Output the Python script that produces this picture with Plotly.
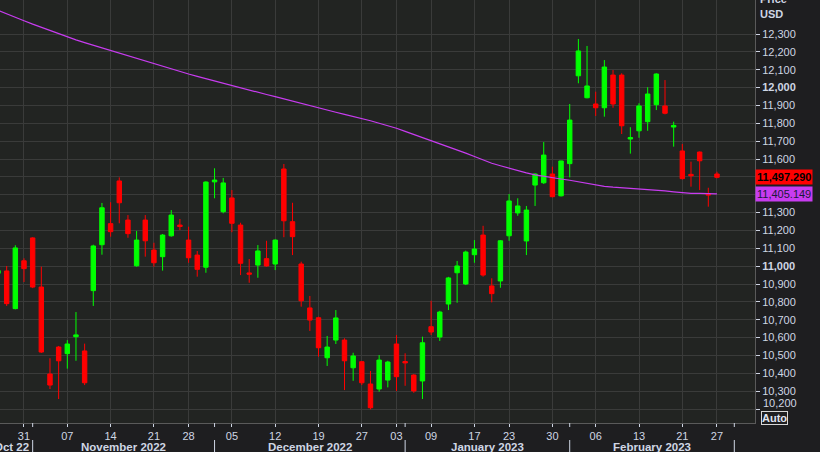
import pandas as pd
import plotly.graph_objects as go

holidays = ["2022-11-24", "2022-12-26", "2023-01-02", "2023-01-16", "2023-02-20"]
dates = [d.strftime("%Y-%m-%d") for d in pd.bdate_range("2022-10-26", "2023-02-27")
         if d.strftime("%Y-%m-%d") not in holidays]

opens = [10960, 10973, 10762, 11030, 11158, 10883, 10396, 10547, 10510, 10605,
         10525, 10863, 11120, 11238, 11477, 11258, 11002, 11258, 11090, 11053,
         11170, 11230, 11146, 11062, 10994, 11472, 11305, 11382, 11230, 10962,
         11006, 11042, 11012, 11544, 11249, 11012, 10766, 10711, 10487, 10586,
         10586, 10431, 10465, 10340, 10312, 10362, 10564, 10466, 10390, 10357,
         10661, 10603, 10788, 10963, 10900, 11064, 11174, 10889, 10917, 11170,
         11298, 11141, 11454, 11467, 11516, 11394, 11574, 12066, 11943, 11908,
         11887, 12070, 12070, 11712, 11758, 11809, 11904, 11897, 11779, 11645,
         11514, 11639, 11406, 11516]
highs = [10985, 11001, 11117, 11044, 11162, 10997, 10484, 10553, 10586, 10743,
         10566, 11120, 11354, 11358, 11497, 11286, 11197, 11286, 11131, 11180,
         11314, 11264, 11221, 11085, 11475, 11548, 11494, 11426, 11243, 11040,
         11118, 11142, 11150, 11572, 11355, 11025, 10833, 10717, 10609, 10754,
         10596, 10515, 10469, 10413, 10502, 10470, 10614, 10512, 10395, 10605,
         10806, 10750, 10940, 11029, 11087, 11146, 11226, 10932, 11146, 11404,
         11380, 11337, 11520, 11695, 11557, 11590, 11908, 12272, 12233, 11977,
         12154, 12098, 12080, 11778, 11912, 12002, 12080, 12042, 11809, 11684,
         11585, 11642, 11439, 11529]
lows = [10950, 10777, 10758, 10911, 10877, 10514, 10312, 10256, 10426, 10470,
        10334, 10777, 11064, 11165, 11240, 11159, 10997, 11053, 10997, 10975,
        11165, 11202, 11019, 10941, 10963, 11380, 11296, 11190, 10950, 10907,
        10935, 10997, 10978, 11162, 11062, 10773, 10637, 10493, 10441, 10564,
        10306, 10358, 10334, 10198, 10297, 10321, 10301, 10330, 10291, 10256,
        10614, 10581, 10754, 10795, 10894, 11019, 10941, 10797, 10879, 11142,
        11282, 11062, 11337, 11460, 11385, 11390, 11497, 12024, 11940, 11841,
        11837, 11887, 11740, 11630, 11719, 11758, 11874, 11850, 11669, 11485,
        11445, 11426, 11333, 11492]
closes = [10975, 10790, 11102, 10986, 10883, 10519, 10334, 10470, 10564, 10615,
          10347, 11113, 11327, 11193, 11355, 11182, 11146, 11142, 11019, 11174,
          11286, 11222, 11047, 10982, 11471, 11482, 11466, 11240, 11016, 10955,
          11085, 11001, 11146, 11254, 11165, 10806, 10698, 10543, 10547, 10710,
          10470, 10497, 10347, 10207, 10474, 10463, 10381, 10458, 10301, 10571,
          10631, 10743, 10934, 11001, 11079, 11096, 10950, 10846, 11142, 11365,
          11337, 11314, 11516, 11622, 11389, 11589, 11818, 12205, 12009, 11887,
          12115, 11908, 11786, 11720, 11897, 11964, 12076, 11856, 11788, 11490,
          11506, 11590, 11398, 11497.29]
ma200 = [12432, 12414, 12394, 12374, 12355, 12337, 12318, 12300, 12282, 12267,
         12252, 12237, 12222, 12208, 12194, 12180, 12165, 12150, 12136, 12121,
         12106, 12091, 12076, 12063, 12050, 12036, 12022, 12009, 11997, 11985,
         11973, 11961, 11949, 11936, 11923, 11910, 11897, 11884, 11873, 11862,
         11850, 11839, 11828, 11814, 11800, 11787, 11772, 11755, 11738, 11721,
         11704, 11688, 11670, 11652, 11633, 11614, 11594, 11576, 11562, 11548,
         11535, 11522, 11511, 11502, 11494, 11488, 11481, 11472, 11461, 11453,
         11447, 11442, 11439, 11436, 11432, 11429, 11426, 11421, 11416, 11410,
         11408, 11407, 11406, 11405.149]

tick_dates = ["2022-10-31", "2022-11-07", "2022-11-14", "2022-11-21", "2022-11-28",
              "2022-12-05", "2022-12-12", "2022-12-19", "2022-12-27", "2023-01-03",
              "2023-01-09", "2023-01-17", "2023-01-23", "2023-01-30", "2023-02-06",
              "2023-02-13", "2023-02-21", "2023-02-27"]
tick_text = [d[-2:] for d in tick_dates]
month_starts = ["2022-11-01", "2022-12-01", "2023-01-04", "2023-02-01"]
month_labels = ["Oct 22", "November 2022", "December 2022", "January 2023", "February 2023"]

y_ticks = list(range(10200, 12301, 100))
hidden_y = {11400, 11500}          # covered by the price boxes
shifted_y = 10200                  # label nudged up above the "Auto" box


def fmt_tick(v):
    if v in hidden_y or v == shifted_y:
        return ""
    s = f"{v:,}"
    return "<b>%s</b>" % s if v % 1000 == 0 else s


y_text = [fmt_tick(v) for v in y_ticks]

FONT = "Liberation Sans, Arial, sans-serif"
TXT = "#cfd6e4"
GRID = "#3a3b3a"

fig = go.Figure()
fig.add_trace(go.Candlestick(
    x=dates, open=opens, high=highs, low=lows, close=closes,
    increasing=dict(fillcolor="#00ff00", line=dict(color="#00ff00", width=1)),
    decreasing=dict(fillcolor="#ff0000", line=dict(color="#ff0000", width=1)),
    whiskerwidth=0, hoverinfo="skip", showlegend=False))
fig.add_trace(go.Scatter(x=dates, y=ma200, mode="lines",
                         line=dict(color="#c83cf0", width=1.2),
                         hoverinfo="skip", showlegend=False))

idx = {d: i for i, d in enumerate(dates)}
seps = [idx[d] for d in month_starts] + [len(dates) + 1]

shapes = []
for s in seps:
    shapes.append(dict(type="line", xref="x", yref="paper", x0=s, x1=s,
                       y0=0, y1=-4 / 423, line=dict(color=TXT, width=1)))
    shapes.append(dict(type="line", xref="x", yref="paper", x0=s, x1=s,
                       y0=-17 / 423, y1=-30 / 423, line=dict(color=TXT, width=1)))

annotations = []
annotations.append(dict(x=seps[0], y=0, xref="x", yref="paper", text="<b>%s</b>" % month_labels[0],
                        showarrow=False, xanchor="right", yanchor="middle", xshift=-2, yshift=-24,
                        font=dict(family=FONT, size=11.5, color=TXT)))
for k in range(1, 5):
    annotations.append(dict(x=(seps[k - 1] + seps[k]) / 2, y=0, xref="x", yref="paper",
                            text="<b>%s</b>" % month_labels[k], showarrow=False,
                            xanchor="center", yanchor="middle", yshift=-24,
                            font=dict(family=FONT, size=11.5, color=TXT)))
annotations += [
    dict(x=1, y=1, xref="paper", yref="paper", text="<b>Price</b>", showarrow=False,
         xanchor="left", yanchor="middle", xshift=3, yshift=1,
         font=dict(family=FONT, size=11, color=TXT)),
    dict(x=1, y=1, xref="paper", yref="paper", text="<b>USD</b>", showarrow=False,
         xanchor="left", yanchor="middle", xshift=3, yshift=-14,
         font=dict(family=FONT, size=11, color=TXT)),
    dict(x=1, y=shifted_y, xref="paper", yref="y", text=f"{shifted_y:,}", showarrow=False,
         xanchor="left", yanchor="middle", xshift=6, yshift=6,
         font=dict(family=FONT, size=11, color=TXT)),
    dict(x=1, y=closes[-1], xref="paper", yref="y", text="<b>%s</b>" % f"{closes[-1]:,.3f}",
         showarrow=False, xanchor="left", yanchor="middle", xshift=0,
         bgcolor="#ff0000", borderpad=1,
         font=dict(family=FONT, size=11, color="#000000")),
    dict(x=1, y=ma200[-1], xref="paper", yref="y", text=f"{ma200[-1]:,.3f}",
         showarrow=False, xanchor="left", yanchor="middle", xshift=0,
         bgcolor="#c83cf0", borderpad=1,
         font=dict(family=FONT, size=11, color="#1a1a3a")),
    dict(x=1, y=5 / 423, xref="paper", yref="paper", text="<b>Auto</b>", showarrow=False,
         xanchor="left", yanchor="middle", xshift=6, bordercolor="#d8d8d8", borderwidth=1,
         borderpad=0, font=dict(family=FONT, size=11, color="#e0e4f0")),
]

fig.update_layout(
    width=820, height=452,
    margin=dict(l=0, r=65, t=0, b=29),
    paper_bgcolor="#1e1e20", plot_bgcolor="#222422",
    boxgap=0.27,
    showlegend=False,
    hovermode=False,
    shapes=shapes, annotations=annotations,
    font=dict(family=FONT, size=11, color=TXT),
    xaxis=dict(type="category", range=[0.23, 87.39], rangeslider=dict(visible=False),
               automargin=False,
               tickmode="array", tickvals=tick_dates, ticktext=tick_text,
               showgrid=True, gridcolor=GRID, gridwidth=1,
               ticks="outside", ticklen=3, tickcolor=TXT,
               showline=True, linecolor="#5a5a5a", linewidth=1,
               tickfont=dict(family=FONT, size=11, color=TXT), zeroline=False),
    yaxis=dict(side="right", range=[10121.6, 12490.4], automargin=False,
               tickmode="array", tickvals=y_ticks, ticktext=y_text,
               showgrid=True, gridcolor=GRID, gridwidth=1,
               ticks="outside", ticklen=4, tickcolor=TXT,
               showline=True, linecolor="#5a5a5a", linewidth=1,
               tickfont=dict(family=FONT, size=11, color=TXT), zeroline=False),
)

fig.write_html("out.html", config={"displayModeBar": False},
               post_script="document.body.style.margin='0';document.body.style.background='#1e1e20';")
